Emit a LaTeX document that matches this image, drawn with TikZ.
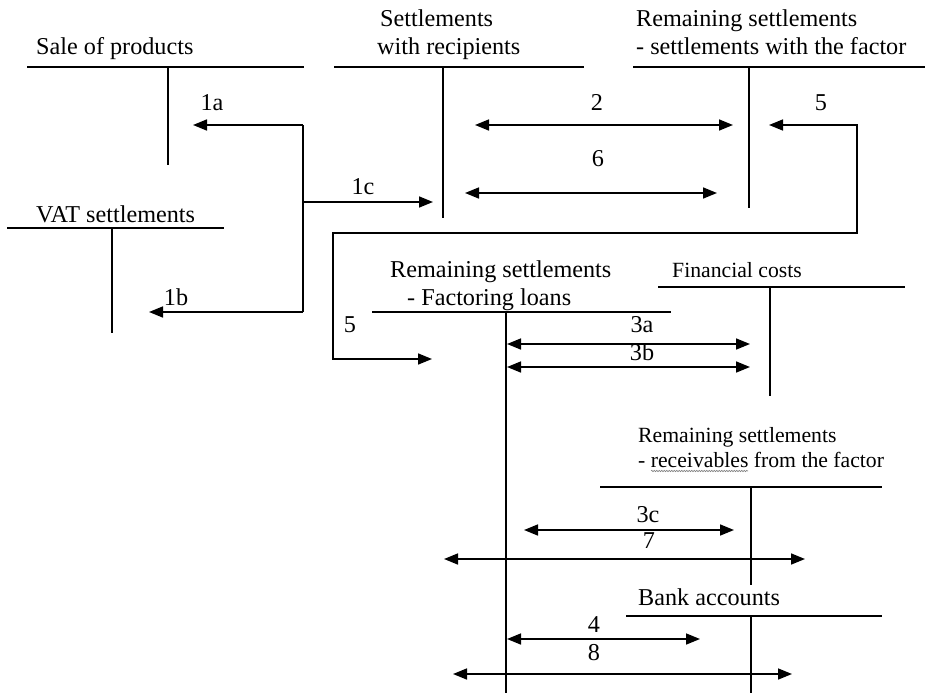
\documentclass[tikz,border=0pt]{standalone}
\usepackage{fontspec}
\setmainfont{Liberation Serif}
\usetikzlibrary{arrows.meta,positioning,decorations.pathmorphing}
\tikzstyle{titel} = [inner sep=0pt, anchor=base west, align=left,
  font=\fontsize{24.2}{28}\selectfont]
\tikzstyle{klein} = [titel, font=\fontsize{21.7}{25}\selectfont]
\tikzstyle{nr} = [inner sep=0pt, anchor=base, font=\fontsize{24.2}{28}\selectfont]
\tikzstyle{konto} = [draw, line width=1.8pt]
\tikzstyle{line} = [draw, line width=1.6pt, -{Triangle[length=14pt,width=11pt]}]
\tikzstyle{both} = [line, {Triangle[length=14pt,width=11pt]}-{Triangle[length=14pt,width=11pt]}]
% T-account: name, left, right, height, stem x, stem end
\newcommand{\konto}[6]{\path[konto] (#2,#4) coordinate (#1-l) -- (#3,#4) coordinate (#1-r)
  (#5,#4) coordinate (#1-t) -- (#5,#6) coordinate (#1-b);}

\begin{document}
\begin{tikzpicture}[x=1pt,y=-1pt]
  \useasboundingbox (0,0) rectangle (925,693);

  % Accounts (two-line titles sit on their last line)
  \node[titel] (k1) at (36,55) {Sale of products};
  \konto{k1}{27}{304}{67}{168}{165}
  \node[titel] (k2) at (377,55) {\hspace{3pt}Settlements\\with recipients};
  \konto{k2}{334}{584}{67}{443}{218}
  \node[titel] (k3) at (636,55) {Remaining settlements\\- settlements with the factor};
  \konto{k3}{633}{925}{67}{749}{208}
  \node[titel] (k4) at (36,222) {VAT settlements};
  \konto{k4}{7}{224}{228}{112}{333}
  \node[titel] (k5) at (390,305) {Remaining settlements\\\hspace{17pt}- Factoring loans};
  \konto{k5}{372}{671}{312}{506}{693}
  \node[klein] (k6) at (672,277) {Financial costs};
  \konto{k6}{658}{905}{287}{770}{396}
  \node[klein] (k7) at (638,467) {Remaining settlements\\- receivables from the factor};
  \konto{k7}{600}{882}{487}{751}{585}
  \draw[gray, line width=0.6pt, decorate,
    decoration={snake, amplitude=0.7pt, segment length=2.5pt}] (651,471) -- (748,471);
  \node[titel] (k8) at (638,605) {Bank accounts};
  \konto{k8}{626}{882}{616}{751}{693}

  % Ends of the bookings
  \coordinate (j1) at (303,125);
  \coordinate (j2) at (303,312);
  \coordinate (j3) at (303,202);
  \coordinate (e1a) at (193,125);
  \coordinate (e1b) at (149,312);
  \coordinate (e1c) at (433,202);
  \coordinate (s2) at (475,125);  \coordinate (e2) at (733,125);
  \coordinate (s6) at (465,193);  \coordinate (e6) at (717,193);
  \coordinate (s5) at (769,125);
  \coordinate (b5) at (857,233);
  \coordinate (c5) at (333,359);
  \coordinate (e5) at (432,359);
  \coordinate (s3a) at (507,344); \coordinate (e3a) at (750,344);
  \coordinate (s3b) at (507,367); \coordinate (e3b) at (750,367);
  \coordinate (s3c) at (524,530); \coordinate (e3c) at (734,530);
  \coordinate (s7) at (444,559);  \coordinate (e7) at (805,559);
  \coordinate (s4) at (507,639);  \coordinate (e4) at (700,639);
  \coordinate (s8) at (453,674);  \coordinate (e8) at (792,674);

  % Bookings
  \path [konto, line width=1.6pt] (j1) -- (j2);
  \path [line] (j1) -- (e1a);
  \path [line] (j2) -- (e1b);
  \path [line] (j3) -- (e1c);
  \path [both] (s2) -- (e2);
  \path [both] (s6) -- (e6);
  \path [both] (s5) -| (b5) -| (c5) -- (e5);
  \path [both] (s3a) -- (e3a);
  \path [both] (s3b) -- (e3b);
  \path [both] (s3c) -- (e3c);
  \path [both] (s7) -- (e7);
  \path [both] (s4) -- (e4);
  \path [both] (s8) -- (e8);

  \node[nr] (n1a) at (212,110) {1a};
  \node[nr] (n1b) at (176,305) {1b};
  \node[nr] (n1c) at (363,194) {1c};
  \node[nr] (n2) at (597,110) {2};
  \node[nr] (n6) at (598,166) {6};
  \node[nr] (n5a) at (821,110) {5};
  \node[nr] (n5b) at (350,332) {5};
  \node[nr] (n3a) at (642,332) {3a};
  \node[nr] (n3b) at (642,360) {3b};
  \node[nr] (n3c) at (648,522) {3c};
  \node[nr] (n7) at (649,548) {7};
  \node[nr] (n4) at (594,632) {4};
  \node[nr] (n8) at (594,660) {8};

\end{tikzpicture}
\end{document}
